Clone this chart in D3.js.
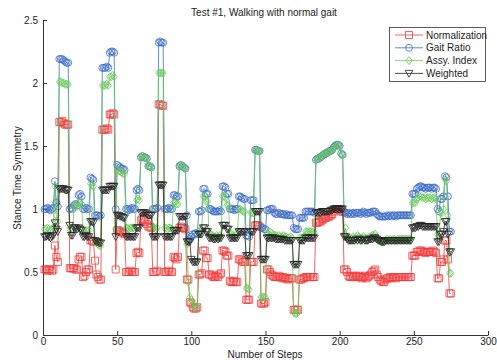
<!DOCTYPE html>
<html>
<head>
<meta charset="utf-8">
<script src="https://cdn.jsdelivr.net/npm/d3@7"></script>
<style>
  body { margin: 0; background: #fff; }
  text { font-family: "Liberation Sans", Arial, sans-serif; fill: #222; }
</style>
</head>
<body>
<div id="chart"></div>
<script>
// series values, one entry per step (step 1..275)
const normalization = [
  0.52,0.52,0.51,0.52,0.52,0.51,0.52,0.71,0.62,0.58,
  1.69,1.69,1.70,1.68,1.67,1.67,1.67,0.53,0.53,0.53,
  0.53,0.52,0.52,0.60,0.62,0.62,0.46,0.47,0.50,0.52,
  0.52,0.75,0.75,0.74,0.59,0.48,0.46,0.44,0.44,1.63,
  1.63,1.63,1.64,1.63,1.75,1.75,1.76,1.75,0.52,0.83,
  0.83,0.82,0.82,0.81,0.80,0.50,0.50,0.50,0.51,0.50,
  0.50,0.50,0.65,0.66,0.65,0.91,0.92,0.91,0.90,0.88,
  0.86,0.86,0.85,0.50,0.50,0.50,0.51,1.83,1.83,1.82,
  1.82,0.50,0.50,0.50,0.51,0.50,0.50,0.62,0.61,0.60,
  0.62,0.85,0.86,0.85,0.85,0.84,0.44,0.44,0.26,0.25,
  0.22,0.21,0.21,0.22,0.48,0.48,0.49,0.67,0.67,0.61,
  0.61,0.48,0.48,0.47,0.46,0.46,0.47,0.46,0.48,0.49,
  0.67,0.67,0.66,0.63,0.63,0.43,0.42,0.42,0.43,0.42,
  0.42,0.60,0.60,0.59,0.58,0.58,0.28,0.28,0.28,0.58,
  0.58,0.58,0.87,0.87,0.87,0.86,0.25,0.25,0.25,0.26,
  0.52,0.52,0.50,0.48,0.47,0.46,0.46,0.46,0.47,0.46,
  0.45,0.46,0.45,0.45,0.44,0.45,0.45,0.45,0.20,0.20,
  0.20,0.20,0.44,0.44,0.45,0.45,0.46,0.46,0.46,0.46,
  0.46,0.46,0.46,0.89,0.89,0.90,0.90,0.91,0.92,0.93,
  0.93,0.94,0.94,0.95,0.96,0.98,1.00,1.00,1.00,0.99,
  0.98,0.98,0.52,0.52,0.50,0.47,0.46,0.46,0.47,0.46,
  0.47,0.46,0.47,0.46,0.45,0.46,0.47,0.45,0.46,0.47,
  0.48,0.50,0.51,0.52,0.48,0.46,0.44,0.43,0.42,0.42,
  0.44,0.45,0.45,0.46,0.45,0.46,0.46,0.45,0.46,0.46,
  0.46,0.46,0.46,0.46,0.46,0.46,0.46,0.46,0.63,0.63,
  0.63,0.66,0.66,0.67,0.67,0.66,0.66,0.65,0.66,0.66,
  0.66,0.66,0.67,0.66,0.65,0.45,0.45,0.58,0.58,0.60,
  0.75,0.75,0.60,0.33,0.33
];
const gaitRatio = [
  1.00,1.00,1.01,1.00,0.99,1.00,1.01,1.22,1.05,1.02,
  2.19,2.19,2.19,2.18,2.17,2.16,2.16,1.00,1.01,1.00,
  1.03,1.04,1.03,1.11,1.12,1.10,1.00,1.00,1.01,1.00,
  1.00,1.25,1.24,1.23,0.95,0.95,0.95,0.94,0.95,2.12,
  2.12,2.12,2.13,2.12,2.24,2.25,2.25,2.24,1.00,1.35,
  1.34,1.33,1.32,1.32,1.31,1.00,1.00,0.99,1.00,1.01,
  1.00,1.00,1.15,1.16,1.15,1.41,1.42,1.41,1.41,1.40,
  1.34,1.34,1.33,1.00,1.00,1.00,1.01,2.32,2.33,2.32,
  2.32,1.00,1.00,1.00,1.01,1.00,1.00,1.11,1.11,1.10,
  1.10,1.34,1.35,1.34,1.33,1.32,0.95,0.75,0.76,0.78,
  0.80,0.80,0.81,0.80,0.98,0.98,0.99,1.16,1.16,1.12,
  1.12,1.00,1.00,0.99,0.98,0.98,0.98,0.98,0.99,0.98,
  1.18,1.18,1.17,1.12,1.12,1.00,1.00,1.00,0.99,1.00,
  1.00,1.10,1.10,1.09,1.08,1.08,0.79,0.79,0.78,1.07,
  1.07,1.07,1.47,1.47,1.46,1.46,0.85,0.85,0.84,0.84,
  0.99,0.99,1.00,1.00,1.00,0.97,0.96,0.96,0.97,0.96,
  0.96,0.96,0.95,0.96,0.95,0.95,0.95,0.95,0.85,0.84,
  0.84,0.84,0.93,0.93,0.93,0.93,0.98,0.98,0.98,0.98,
  0.98,0.98,0.97,1.39,1.40,1.40,1.41,1.42,1.43,1.44,
  1.44,1.45,1.46,1.46,1.47,1.49,1.50,1.51,1.51,1.50,
  1.44,1.43,0.97,0.97,0.96,0.97,0.96,0.96,0.97,0.96,
  0.97,0.97,0.97,0.96,0.97,0.98,0.97,0.96,0.97,0.97,
  0.97,0.98,0.98,0.98,0.96,0.95,0.94,0.94,0.94,0.94,
  0.94,0.95,0.94,0.95,0.94,0.95,0.95,0.94,0.95,0.95,
  0.95,0.95,0.95,0.95,0.95,0.95,0.95,0.95,1.12,1.12,
  1.12,1.16,1.17,1.18,1.18,1.17,1.17,1.16,1.17,1.17,
  1.17,1.16,1.17,1.17,1.16,1.00,0.98,1.08,1.08,1.10,
  1.26,1.25,1.10,0.82,0.82
];
const assyIndex = [
  0.84,0.84,0.85,0.84,0.83,0.84,0.85,1.18,0.95,0.90,
  2.01,2.01,2.00,2.00,1.99,1.99,1.99,0.84,0.85,0.84,
  1.02,1.03,1.02,1.05,1.05,1.04,0.82,0.82,0.83,0.82,
  0.83,1.20,1.19,1.18,0.74,0.73,0.72,0.71,0.71,1.98,
  1.98,1.98,1.99,1.98,2.05,2.05,2.06,2.05,0.84,1.31,
  1.30,1.30,1.29,1.28,1.28,0.85,0.85,0.84,0.85,0.85,
  0.85,0.84,1.07,1.08,1.07,1.41,1.42,1.41,1.41,1.40,
  1.34,1.34,1.33,0.85,0.85,0.84,0.85,2.08,2.08,2.08,
  2.08,0.85,0.85,0.84,0.85,0.85,0.84,1.05,1.05,1.04,
  1.04,1.34,1.35,1.34,1.33,1.32,0.72,0.42,0.30,0.28,
  0.24,0.22,0.22,0.23,0.82,0.83,0.83,1.10,1.10,1.06,
  1.06,0.80,0.80,0.79,0.78,0.78,0.79,0.78,0.79,0.78,
  1.10,1.10,1.09,1.03,1.03,0.80,0.80,0.79,0.78,0.80,
  0.80,1.00,1.00,0.99,0.98,0.98,0.37,0.37,0.36,0.97,
  0.97,0.97,1.46,1.47,1.46,1.46,0.30,0.30,0.30,0.30,
  0.80,0.80,0.82,0.81,0.80,0.79,0.79,0.78,0.79,0.78,
  0.78,0.79,0.78,0.78,0.77,0.77,0.78,0.77,0.18,0.17,
  0.17,0.18,0.77,0.77,0.77,0.78,0.82,0.82,0.82,0.82,
  0.82,0.82,0.81,1.39,1.40,1.40,1.41,1.42,1.43,1.44,
  1.44,1.45,1.45,1.46,1.47,1.48,1.49,1.50,1.51,1.50,
  1.43,1.43,0.80,0.85,0.78,0.76,0.77,0.76,0.78,0.77,
  0.78,0.79,0.78,0.77,0.77,0.78,0.77,0.77,0.76,0.78,
  0.78,0.79,0.79,0.80,0.78,0.76,0.75,0.74,0.74,0.74,
  0.75,0.76,0.75,0.76,0.75,0.76,0.76,0.75,0.76,0.76,
  0.76,0.76,0.76,0.76,0.76,0.76,0.76,0.76,1.05,1.05,
  1.05,1.08,1.09,1.10,1.10,1.09,1.09,1.08,1.09,1.09,
  1.09,1.08,1.09,1.09,1.08,0.80,0.78,0.97,0.97,1.00,
  1.24,1.22,0.95,0.49,0.49
];
const weighted = [
  0.78,0.78,0.79,0.78,0.77,0.78,0.79,0.89,0.84,0.82,
  1.16,1.16,1.16,1.16,1.15,1.15,1.15,0.87,0.79,0.79,
  0.85,0.85,0.84,0.85,0.84,0.83,0.78,0.78,0.79,0.78,
  0.78,0.90,0.90,0.89,0.75,0.74,0.74,0.73,0.73,1.15,
  1.15,1.15,1.15,1.15,1.18,1.18,1.18,1.18,0.78,0.95,
  0.95,0.94,0.94,0.93,0.93,0.78,0.78,0.78,0.78,0.78,
  0.78,0.78,0.85,0.85,0.85,0.97,0.97,0.97,0.97,0.96,
  0.95,0.95,0.95,0.78,0.78,0.78,0.78,1.19,1.19,1.19,
  1.19,0.78,0.78,0.78,0.78,0.78,0.78,0.83,0.83,0.83,
  0.83,0.94,0.94,0.94,0.94,0.94,0.74,0.74,0.74,0.60,
  0.58,0.58,0.58,0.58,0.80,0.80,0.80,0.85,0.85,0.82,
  0.82,0.77,0.77,0.77,0.76,0.76,0.77,0.76,0.77,0.77,
  0.87,0.87,0.87,0.84,0.84,0.77,0.77,0.77,0.77,0.77,
  0.77,0.82,0.82,0.82,0.82,0.82,0.63,0.63,0.63,0.82,
  0.82,0.82,0.98,0.98,0.98,0.98,0.60,0.60,0.60,0.60,
  0.77,0.77,0.77,0.77,0.77,0.77,0.76,0.76,0.76,0.76,
  0.76,0.76,0.75,0.75,0.75,0.75,0.75,0.75,0.56,0.56,
  0.56,0.56,0.75,0.75,0.75,0.75,0.77,0.77,0.77,0.77,
  0.77,0.77,0.77,0.97,0.97,0.97,0.97,0.98,0.98,0.98,
  0.98,0.98,0.98,0.99,0.99,1.00,1.00,1.00,1.00,1.00,
  1.00,1.00,0.78,0.78,0.76,0.75,0.75,0.75,0.75,0.75,
  0.76,0.75,0.76,0.75,0.75,0.76,0.75,0.75,0.75,0.76,
  0.76,0.76,0.77,0.77,0.76,0.75,0.75,0.74,0.74,0.74,
  0.75,0.75,0.75,0.75,0.75,0.75,0.75,0.75,0.75,0.75,
  0.75,0.75,0.75,0.75,0.75,0.75,0.75,0.75,0.85,0.85,
  0.85,0.86,0.86,0.87,0.87,0.86,0.86,0.86,0.86,0.86,
  0.86,0.86,0.86,0.86,0.86,0.74,0.74,0.80,0.80,0.82,
  0.90,0.90,0.80,0.66,0.66
];

const seriesNames = ['Normalization', 'Gait Ratio', 'Assy. Index', 'Weighted'];
const xTicks = [0, 50, 100, 150, 200, 250, 300];
const yTicks = [0, 0.5, 1, 1.5, 2, 2.5];

const W = 497, H = 360;
const margin = { top: 20, right: 9, bottom: 25, left: 43 };

const svg = d3.select('#chart').append('svg')
  .attr('width', W).attr('height', H);

const x = d3.scaleLinear().domain([0, 300]).range([margin.left, W - margin.right]);
const y = d3.scaleLinear().domain([0, 2.5]).range([H - margin.bottom, margin.top]);

// axes (ticks pointing inward, matlab style)
svg.append('g')
  .attr('transform', `translate(0,${H - margin.bottom})`)
  .call(d3.axisBottom(x).tickValues(xTicks).tickSizeInner(-4).tickSizeOuter(0).tickPadding(3).tickFormat(d3.format('d')))
  .call(g => g.selectAll('text').attr('font-size', 10).attr('fill', '#222'))
  .call(g => g.selectAll('line, path').attr('stroke', '#333'));

svg.append('g')
  .attr('transform', `translate(${margin.left},0)`)
  .call(d3.axisLeft(y).tickValues(yTicks).tickSizeInner(-4).tickSizeOuter(0).tickPadding(5).tickFormat(d => d3.format('')(d)))
  .call(g => g.selectAll('text').attr('font-size', 10).attr('fill', '#222'))
  .call(g => g.selectAll('line, path').attr('stroke', '#333'));

// labels
svg.append('text').attr('x', 264).attr('y', 16).attr('text-anchor', 'middle')
  .attr('font-size', 10).text('Test #1, Walking with normal gait');
svg.append('text').attr('x', 265).attr('y', 358).attr('text-anchor', 'middle')
  .attr('font-size', 10).text('Number of Steps');
svg.append('text').attr('transform', 'translate(21,178) rotate(-90)').attr('text-anchor', 'middle')
  .attr('font-size', 10).text('Stance Time Symmetry');

const styles = [
  { data: normalization, color: '#f03c3c', marker: 'square' },
  { data: gaitRatio, color: '#3d6cc9', marker: 'circle' },
  { data: assyIndex, color: '#69c95a', marker: 'diamond' },
  { data: weighted, color: '#222', marker: 'triangle' }
];

function markerPath(type) {
  if (type === 'square') return 'M-3.5,-3.5H3.5V3.5H-3.5Z';
  if (type === 'circle') return d3.symbol(d3.symbolCircle, 38)();
  if (type === 'diamond') return 'M0,-4L3,0L0,4L-3,0Z';
  return 'M-3.8,-3L3.8,-3L0,3.8Z';
}

const line = d3.line().x((d, i) => x(i + 1)).y(d => y(d));

styles.forEach(s => {
  svg.append('path').datum(s.data)
    .attr('fill', 'none').attr('stroke', s.color).attr('stroke-width', 0.8).attr('d', line);
  svg.append('g').selectAll('path').data(s.data).join('path')
    .attr('transform', (d, i) => `translate(${x(i + 1)},${y(d)})`)
    .attr('d', markerPath(s.marker))
    .attr('fill', 'none').attr('stroke', s.color).attr('stroke-width', 0.8);
});

// legend
const lg = svg.append('g');
lg.append('rect').attr('x', 389.5).attr('y', 27.5).attr('width', 96).attr('height', 54)
  .attr('fill', '#fff').attr('stroke', '#333').attr('stroke-width', 0.8);
seriesNames.forEach((name, i) => {
  const ly = 35 + i * 12.8;
  lg.append('line').attr('x1', 395).attr('x2', 423).attr('y1', ly).attr('y2', ly)
    .attr('stroke', styles[i].color).attr('stroke-width', 0.8);
  lg.append('path').attr('transform', `translate(409,${ly})`).attr('d', markerPath(styles[i].marker))
    .attr('fill', 'none').attr('stroke', styles[i].color).attr('stroke-width', 0.8);
  lg.append('text').attr('x', 426).attr('y', ly + 3.5).attr('font-size', 10).text(name);
});
</script>
</body>
</html>
